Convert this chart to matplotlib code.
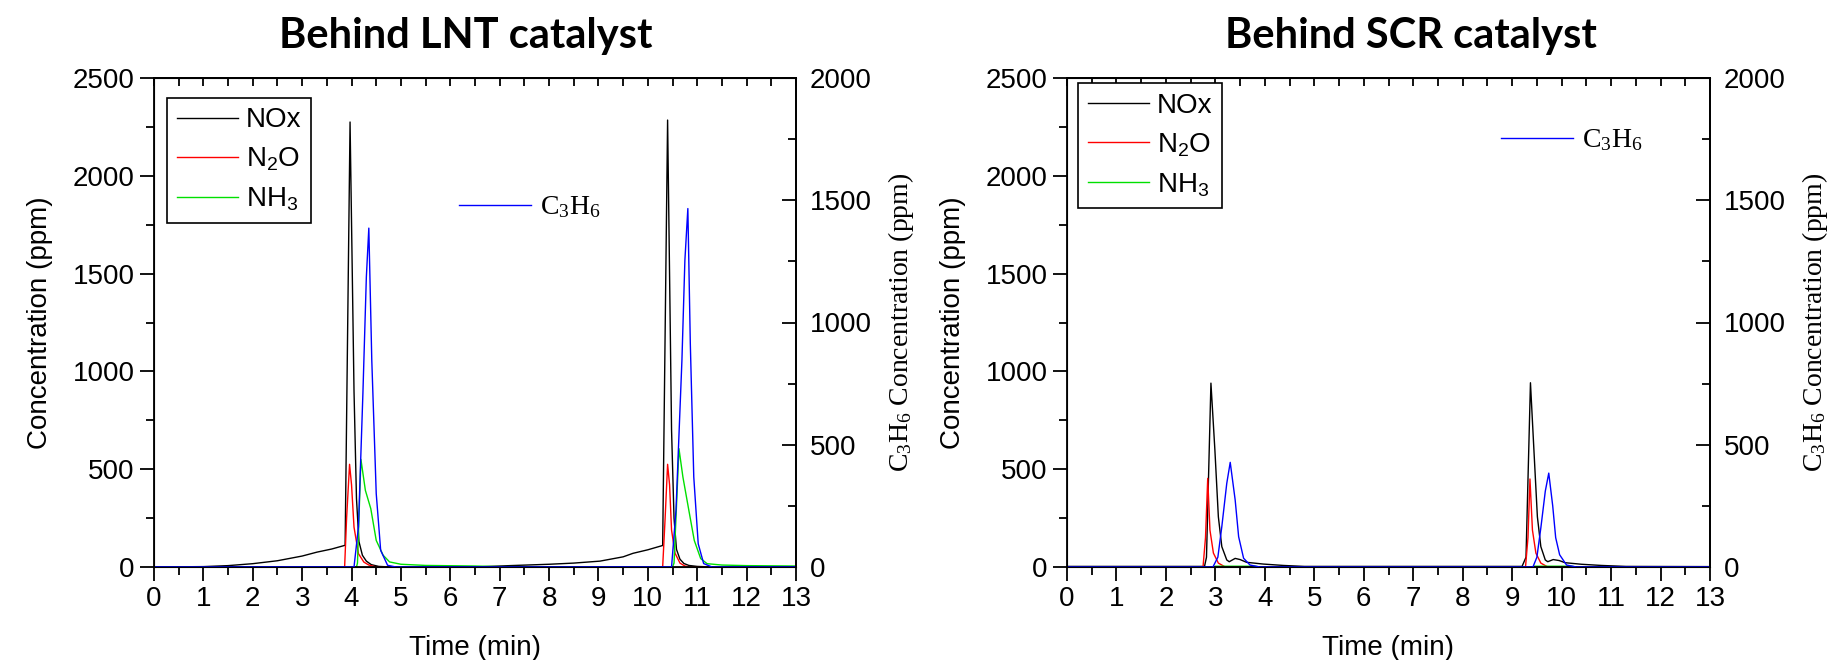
import matplotlib
matplotlib.use('Agg')
import matplotlib.pyplot as plt
from matplotlib.ticker import MultipleLocator

plt.rcParams['font.family'] = ['Liberation Sans', 'DejaVu Sans']
plt.rcParams['mathtext.default'] = 'regular'

# ---- Behind LNT catalyst (time in min, ppm) ----
lnt_nox_t = [0, 1.0, 1.5, 2.0, 2.5, 3.0, 3.3, 3.6, 3.87, 3.97, 4.05, 4.1, 4.15, 4.22, 4.3, 4.4, 4.55, 4.8,
             6.5, 7.2, 8.0, 8.5, 9.03, 9.5, 9.7, 10.0, 10.3, 10.40, 10.48, 10.53, 10.58, 10.65, 10.73, 10.83, 11.0, 11.3, 13]
lnt_nox = [0, 2, 7, 17, 32, 56, 76, 92, 111, 2275, 900, 350, 130, 60, 30, 12, 3, 0,
           0, 7, 14, 20, 30, 52, 70, 88, 110, 2285, 700, 250, 90, 40, 18, 8, 3, 0, 0]

lnt_n2o_t = [0, 3.86, 3.90, 3.96, 4.00, 4.05, 4.14, 4.25, 4.35, 4.5, 10.30, 10.35, 10.40, 10.44, 10.48, 10.55, 10.65, 10.75, 10.85, 13]
lnt_n2o = [0, 0, 250, 525, 420, 204, 68, 25, 10, 0, 0, 250, 525, 420, 189, 71, 20, 5, 0, 0]

lnt_nh3_t = [0, 4.10, 4.12, 4.19, 4.28, 4.39, 4.50, 4.64, 4.77, 5.0, 5.5, 6.5, 7.0, 10.50, 10.53, 10.63, 10.71,
             10.83, 10.94, 11.07, 11.2, 11.5, 12.0, 13]
lnt_nh3 = [0, 0, 20, 550, 392, 298, 136, 60, 26, 14, 8, 5, 2, 0, 20, 605, 460, 290, 136, 43, 17, 10, 7, 5]

# C3H6 is read on the right axis (0-2000 ppm)
lnt_c3h6_t = [0, 4.05, 4.14, 4.23, 4.30, 4.35, 4.41, 4.50, 4.59, 4.73, 4.9, 10.48, 10.57, 10.69, 10.75, 10.81,
              10.86, 10.93, 11.02, 11.13, 11.3, 13]
lnt_c3h6 = [0, 0, 164, 709, 1186, 1386, 845, 300, 68, 7, 0, 0, 232, 845, 1254, 1466, 913, 368, 95, 14, 0, 0]

# ---- Behind SCR catalyst ----
scr_nox_t = [0, 2.78, 2.82, 2.91, 2.99, 3.06, 3.13, 3.23, 3.28, 3.40, 3.5, 3.63, 3.97, 4.37, 4.8,
             9.20, 9.28, 9.37, 9.44, 9.51, 9.58, 9.67, 9.72, 9.83, 9.95, 10.07, 10.4, 10.8, 11.3, 13]
scr_nox = [3, 3, 50, 940, 598, 257, 104, 36, 27, 44, 38, 24, 15, 8, 3,
           3, 50, 942, 598, 257, 104, 36, 27, 38, 33, 22, 14, 8, 3, 2]

scr_n2o_t = [0, 2.75, 2.80, 2.845, 2.89, 2.96, 3.06, 3.2, 9.27, 9.32, 9.36, 9.41, 9.48, 9.58, 9.72, 13]
scr_n2o = [0, 0, 150, 453, 189, 71, 20, 0, 0, 150, 450, 189, 71, 20, 0, 0]

scr_nh3_t = [0, 2.95, 3.0, 3.8, 3.9, 9.4, 9.45, 10.2, 10.3, 13]
scr_nh3 = [0, 0, 4, 4, 0, 0, 4, 4, 0, 0]

scr_c3h6_t = [0, 2.95, 3.05, 3.13, 3.23, 3.30, 3.40, 3.47, 3.57, 3.70, 3.9,
              9.42, 9.50, 9.58, 9.67, 9.74, 9.82, 9.88, 9.96, 10.1, 10.3, 13]
scr_c3h6 = [0, 0, 40, 165, 342, 428, 274, 124, 36, 8, 0,
            0, 40, 160, 310, 384, 250, 120, 50, 8, 0, 0]

x_ticks = list(range(0, 14))
left_ticks = [0, 500, 1000, 1500, 2000, 2500]
right_ticks = [0, 500, 1000, 1500, 2000]

FS = 20
SERIF = ['Liberation Serif', 'DejaVu Serif']


def draw_panel(ax, nox_t, nox, n2o_t, n2o, nh3_t, nh3, c_t, c, leg_pos, c_leg_pos):
    ax.plot(nox_t, nox, color='black', lw=1.0, label='NOx')
    ax.plot(n2o_t, n2o, color='red', lw=1.0, label=r'N$_\mathregular{2}$O')
    ax.plot(nh3_t, nh3, color='#00e000', lw=1.0, label=r'NH$_\mathregular{3}$')
    ax.set_xlim(0, 13)
    ax.set_ylim(0, 2500)
    ax.set_xticks(x_ticks)
    ax.set_yticks(left_ticks)
    ax.xaxis.set_minor_locator(MultipleLocator(0.5))
    ax.yaxis.set_minor_locator(MultipleLocator(250))
    ax.tick_params(axis='both', which='major', direction='out', length=10, width=1.3,
                   labelsize=FS, pad=4, right=False, top=False)
    ax.tick_params(axis='both', which='minor', direction='out', length=6, width=1.3,
                   right=False, top=False)
    for s in ax.spines.values():
        s.set_linewidth(1.3)
    ax.set_xlabel('Time (min)', fontsize=FS, labelpad=16)
    ax.set_ylabel('Concentration (ppm)', fontsize=FS, labelpad=14)

    # top ticks pointing inwards
    top = ax.secondary_xaxis('top')
    top.set_xticks(x_ticks)
    top.xaxis.set_minor_locator(MultipleLocator(0.5))
    top.tick_params(which='both', direction='in', length=6, width=1.3, labeltop=False)
    top.spines['top'].set_linewidth(1.3)

    leg = ax.legend(loc='upper left', bbox_to_anchor=leg_pos, fontsize=FS, frameon=True,
                    fancybox=False, edgecolor='black', framealpha=1, borderaxespad=0,
                    handlelength=2.2, handletextpad=0.3, labelspacing=0.45, borderpad=0.35)
    leg.get_frame().set_linewidth(1.2)

    ax2 = ax.twinx()
    ax2.plot(c_t, c, color='blue', lw=1.0, label=r'C$_\mathregular{3}$H$_\mathregular{6}$')
    ax2.set_ylim(0, 2000)
    ax2.set_yticks(right_ticks)
    ax2.yaxis.set_minor_locator(MultipleLocator(250))
    ax2.tick_params(axis='y', which='major', direction='in', length=10, width=1.3,
                    labelsize=FS, pad=10)
    ax2.tick_params(axis='y', which='minor', direction='in', length=6, width=1.3)
    ax2.spines['right'].set_linewidth(1.3)
    ax2.set_ylabel(r'C$_\mathregular{3}$H$_\mathregular{6}$ Concentration (ppm)',
                   fontsize=FS, family=SERIF, labelpad=10)
    ax2.legend(loc='center left', bbox_to_anchor=c_leg_pos, frameon=False,
               prop={'family': SERIF, 'size': FS}, borderaxespad=0, borderpad=0,
               handlelength=2.6, handletextpad=0.3)
    return ax2


fig = plt.figure(figsize=(18.43, 6.6), dpi=100)
ax_l = fig.add_axes([154 / 1843, 1 - 567 / 660, 642 / 1843, 489 / 660])
ax_r = fig.add_axes([1067 / 1843, 1 - 567 / 660, 643 / 1843, 489 / 660])

draw_panel(ax_l, lnt_nox_t, lnt_nox, lnt_n2o_t, lnt_n2o, lnt_nh3_t, lnt_nh3,
           lnt_c3h6_t, lnt_c3h6, (0.02, 0.96), (0.475, 0.735))
draw_panel(ax_r, scr_nox_t, scr_nox, scr_n2o_t, scr_n2o, scr_nh3_t, scr_nh3,
           scr_c3h6_t, scr_c3h6, (0.017, 0.99), (0.675, 0.872))

fig.text(466 / 1843, 1 - 48 / 660, 'Behind LNT catalyst', ha='center', va='baseline',
         fontsize=30, fontweight='bold', family=['Lato', 'DejaVu Sans'])
fig.text(1411 / 1843, 1 - 48 / 660, 'Behind SCR catalyst', ha='center', va='baseline',
         fontsize=30, fontweight='bold', family=['Lato', 'DejaVu Sans'])

fig.savefig('out.png', dpi=100)
